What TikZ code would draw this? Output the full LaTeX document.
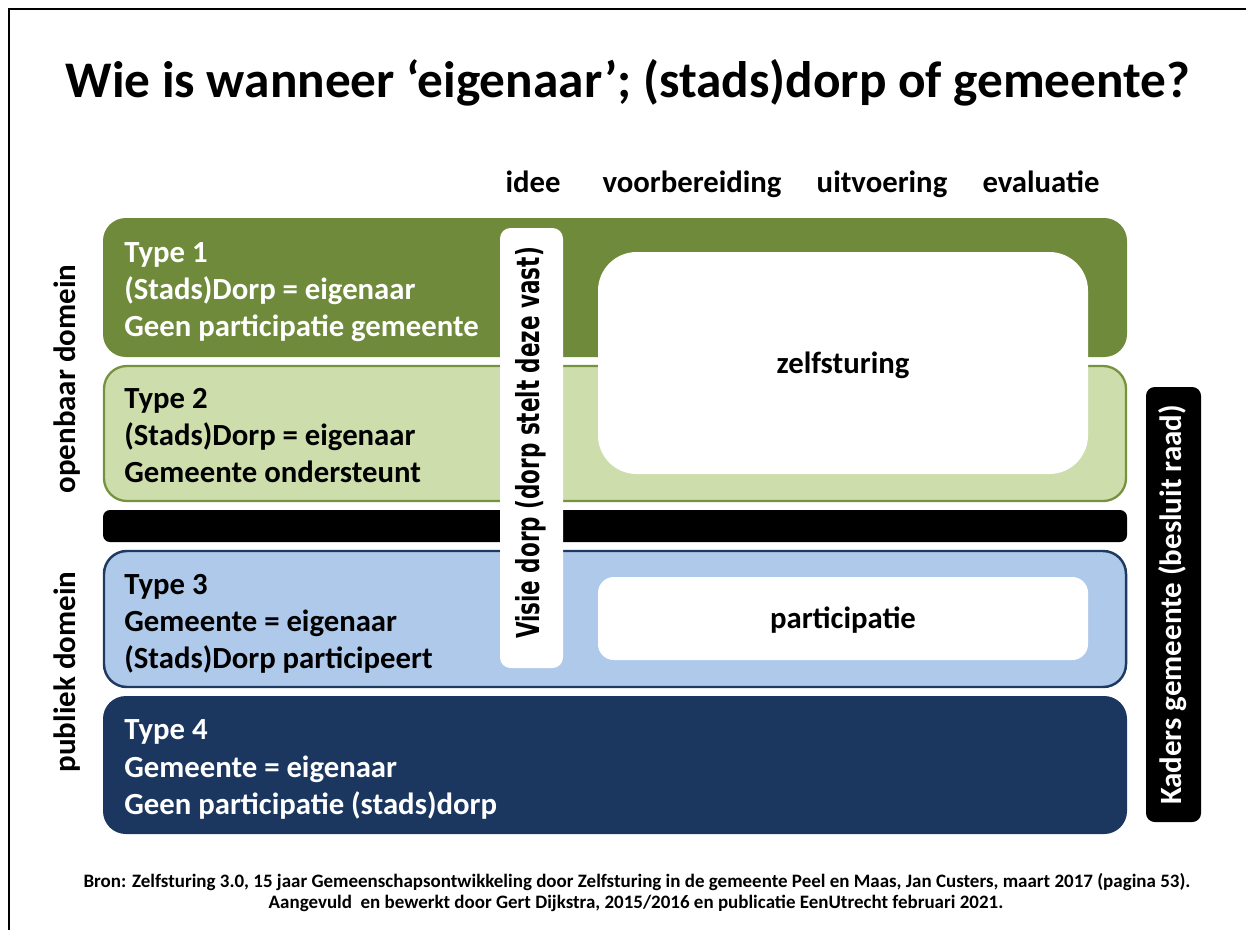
\documentclass[tikz,border=0pt]{standalone}
\usepackage{fontspec}
\setmainfont{Carlito}
\newfontfamily\dvfont{DejaVu Sans Bold}
\usepackage{graphicx}
\definecolor{dkgreen}{HTML}{6F8A3B}
\definecolor{ltgreen}{HTML}{CDDDAC}
\definecolor{ltgreenb}{HTML}{76923C}
\definecolor{ltblue}{HTML}{AFC9EA}
\definecolor{ltblueb}{HTML}{1F3A60}
\definecolor{navy}{HTML}{1B375F}
\tikzset{
  bodytxt/.style={anchor=base west, inner sep=0pt, font=\fontsize{17.5}{21}\bfseries},
  headtxt/.style={anchor=base, inner sep=0pt, font=\fontsize{17.5}{21}\bfseries},
  vtxt/.style={anchor=center, inner sep=0pt, rotate=90, font=\fontsize{17.6}{21}\bfseries},
  foottxt/.style={anchor=base, inner sep=0pt, font=\fontsize{10.8}{13}\bfseries},
}
\begin{document}
\begin{tikzpicture}[x=0.02cm,y=-0.02cm]
\useasboundingbox (0,0) rectangle (1246,930);
% frame
\draw[line width=1.2pt] (9,930) -- (9,9) -- (1246,9);
% title
\node[anchor=base, inner sep=0pt, font=\fontsize{29.2}{34}\bfseries] (title) at (628,97) {Wie is wanneer ‘eigenaar’; (stads)dorp of gemeente?};
% headers
\node[headtxt] (h1) at (533,192) {idee};
\node[headtxt] (h2) at (692,192) {voorbereiding};
\node[headtxt] (h3) at (882,192) {uitvoering};
\node[headtxt] (h4) at (1041,192) {evaluatie};
% boxes
\fill[dkgreen, rounded corners=13pt] (103,218) rectangle (1127,357);
\filldraw[fill=ltgreen, draw=ltgreenb, line width=1.3pt, rounded corners=13pt] (104,366) rectangle (1126,501);
\fill[black, rounded corners=4pt] (103,510) rectangle (1127,542);
\filldraw[fill=ltblue, draw=ltblueb, line width=1.4pt, rounded corners=13pt] (104,551) rectangle (1126,687);
\fill[navy, rounded corners=13pt] (103,696) rectangle (1127,834);
% white overlays
\fill[white, rounded corners=6pt] (500,228) rectangle (563,668);
\fill[white, rounded corners=22pt] (598,252) rectangle (1088,474);
\fill[white, rounded corners=9pt] (598,577) rectangle (1088,660);
\fill[black, rounded corners=5pt] (1146,387) rectangle (1201,822);
% box texts
\node[bodytxt, text=white] (t1a) at (124,262) {Type 1};
\node[bodytxt, text=white] (t1b) at (124,299) {(Stads)Dorp = eigenaar};
\node[bodytxt, text=white] (t1c) at (124,336) {Geen participatie gemeente};
\node[bodytxt] (t2a) at (124,408) {Type 2};
\node[bodytxt] (t2b) at (124,445) {(Stads)Dorp = eigenaar};
\node[bodytxt] (t2c) at (124,482) {Gemeente ondersteunt};
\node[bodytxt] (t3a) at (124,594) {Type 3};
\node[bodytxt] (t3b) at (124,631) {Gemeente = eigenaar};
\node[bodytxt] (t3c) at (124,668) {(Stads)Dorp participeert};
\node[bodytxt, text=white] (t4a) at (124,739) {Type 4};
\node[bodytxt, text=white] (t4b) at (124,777) {Gemeente = eigenaar};
\node[bodytxt, text=white] (t4c) at (124,814) {Geen participatie (stads)dorp};
\node[inner sep=0pt, font=\fontsize{17.5}{21}\bfseries] (zelf) at (843,365) {zelfsturing};
\node[inner sep=0pt, font=\fontsize{17.5}{21}\bfseries] (part) at (843,620) {participatie};
% vertical texts
\node[vtxt] (open) at (67,379) {openbaar domein};
\node[vtxt] (publ) at (67,672) {publiek domein};
\node[vtxt, text=white, font=\fontsize{17.6}{21}\bfseries] (kad) at (1173,605) {Kaders gemeente (besluit raad)};
\node[anchor=center, inner sep=0pt, rotate=90, font={\fontsize{18}{22}\dvfont}] (visie) at (531,443) {\scalebox{0.68}[1]{Visie dorp (dorp stelt deze vast)}};
% footer
\node[foottxt] (f1) at (637,887) {Bron: Zelfsturing 3.0, 15 jaar Gemeenschapsontwikkeling door Zelfsturing in de gemeente Peel en Maas, Jan Custers, maart 2017 (pagina 53).};
\node[foottxt] (f2) at (636,908) {Aangevuld\ \ en bewerkt door Gert Dijkstra, 2015/2016 en publicatie EenUtrecht februari 2021.};
\end{tikzpicture}
\end{document}
